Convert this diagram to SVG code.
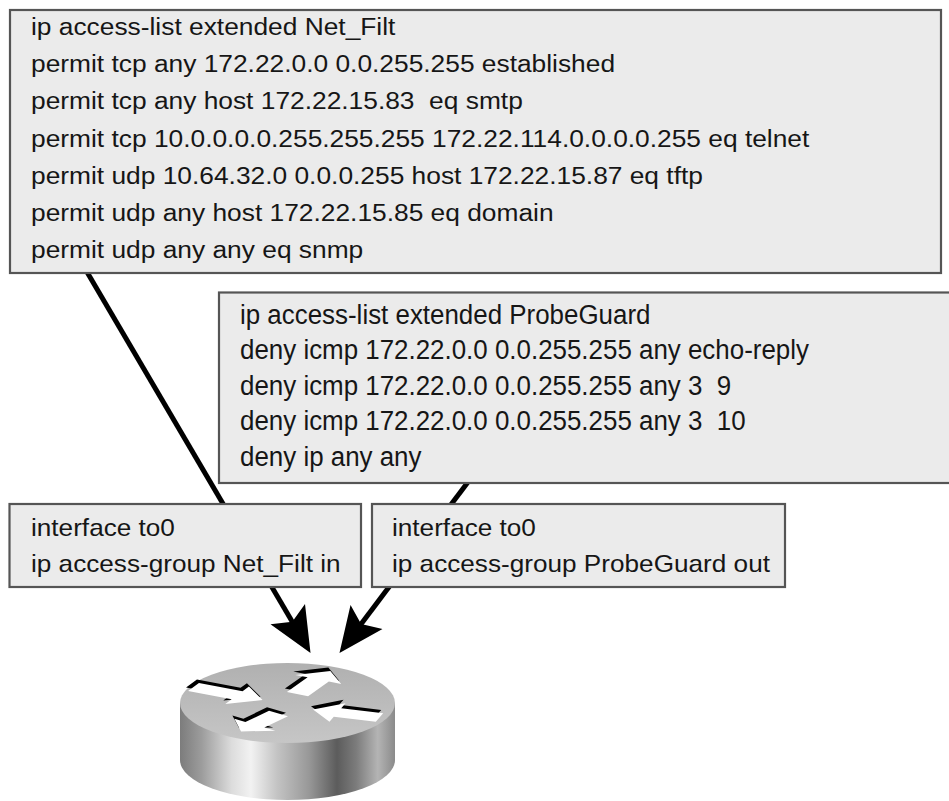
<svg xmlns="http://www.w3.org/2000/svg" xmlns:xlink="http://www.w3.org/1999/xlink" width="949" height="801" viewBox="0 0 949 801">
  <style>
    .box { fill: #ebebeb; stroke: #555; stroke-width: 2.2; }
    .t { font-family: "Liberation Sans", Arial, Helvetica, sans-serif; fill: #161616; }
    .wire { fill: none; stroke: #000; stroke-width: 5; marker-end: url(#head); }
  </style>
  <defs>
    <!-- heavy arrowhead; tip sits 20px past the line end -->
    <marker id="head" markerUnits="userSpaceOnUse" markerWidth="48" markerHeight="44" refX="24" refY="22" orient="auto">
      <path d="M0,2 L45,22 L0,42 L9,22 Z" fill="#000"/>
    </marker>
    <linearGradient id="side" x1="0" y1="0" x2="1" y2="0">
      <stop offset="0" stop-color="#7c7c7c"/>
      <stop offset="0.1" stop-color="#9c9c9c"/>
      <stop offset="0.24" stop-color="#dcdcdc"/>
      <stop offset="0.33" stop-color="#f2f2f2"/>
      <stop offset="0.45" stop-color="#c4c4c4"/>
      <stop offset="0.6" stop-color="#989898"/>
      <stop offset="0.73" stop-color="#5c5c5c"/>
      <stop offset="0.82" stop-color="#7c7c7c"/>
      <stop offset="0.92" stop-color="#b4b4b4"/>
      <stop offset="1" stop-color="#8a8a8a"/>
    </linearGradient>
    <linearGradient id="top" x1="0" y1="0" x2="0" y2="1">
      <stop offset="0" stop-color="#b0b0b0"/>
      <stop offset="1" stop-color="#c6c6c6"/>
    </linearGradient>
    <polygon id="arr" points="0,-12 48,-12 48,-26 76,0 48,26 48,12 0,12"/>
  </defs>

  <rect width="949" height="801" fill="#fff"/>

  <!-- connectors run behind the boxes -->
  <g id="connectors">
    <line class="wire" x1="87" y1="272" x2="299.9" y2="634.8"/>
    <line class="wire" x1="468" y1="482" x2="352.1" y2="636.1"/>
  </g>

  <g id="acl-net-filt">
    <rect class="box" x="10" y="10" width="931" height="263"/>
    <g class="t" font-size="23" transform="translate(31 0) scale(1.145 1)">
      <text y="35" xml:space="preserve">ip access-list extended Net_Filt</text>
      <text y="72.2" xml:space="preserve">permit tcp any 172.22.0.0 0.0.255.255 established</text>
      <text y="109.4" xml:space="preserve">permit tcp any host 172.22.15.83  eq smtp</text>
      <text y="146.6" xml:space="preserve">permit tcp 10.0.0.0.0.255.255.255 172.22.114.0.0.0.0.255 eq telnet</text>
      <text y="183.8" xml:space="preserve">permit udp 10.64.32.0 0.0.0.255 host 172.22.15.87 eq tftp</text>
      <text y="221" xml:space="preserve">permit udp any host 172.22.15.85 eq domain</text>
      <text y="258.2" xml:space="preserve">permit udp any any eq snmp</text>
    </g>
  </g>

  <g id="acl-probeguard">
    <rect class="box" x="219" y="292.5" width="740" height="190.5"/>
    <g class="t" font-size="27" transform="translate(240 0) scale(0.96 1)">
      <text y="324" xml:space="preserve">ip access-list extended ProbeGuard</text>
      <text y="359.5" xml:space="preserve">deny icmp 172.22.0.0 0.0.255.255 any echo-reply</text>
      <text y="395" xml:space="preserve">deny icmp 172.22.0.0 0.0.255.255 any 3  9</text>
      <text y="430.5" xml:space="preserve">deny icmp 172.22.0.0 0.0.255.255 any 3  10</text>
      <text y="466" xml:space="preserve">deny ip any any</text>
    </g>
  </g>

  <g id="iface-in">
    <rect class="box" x="9.5" y="504" width="351.5" height="83"/>
    <g class="t" font-size="24" transform="translate(31 0) scale(1.09 1)">
      <text y="536.5" xml:space="preserve">interface to0</text>
      <text y="572" xml:space="preserve">ip access-group Net_Filt in</text>
    </g>
  </g>

  <g id="iface-out">
    <rect class="box" x="372" y="504" width="413" height="83"/>
    <g class="t" font-size="24" transform="translate(392 0) scale(1.09 1)">
      <text y="536.5" xml:space="preserve">interface to0</text>
      <text y="572" xml:space="preserve">ip access-group ProbeGuard out</text>
    </g>
  </g>

  <g id="router">
    <path d="M180,703 L180,760 A107.5,40 0 0 0 395,760 L395,703 Z" fill="url(#side)"/>
    <ellipse cx="287.5" cy="703" rx="107.5" ry="40" fill="url(#top)"/>
    <!-- four arrows on the top face, drawn on a flat disc then squashed -->
    <g transform="translate(287.5 703) scale(1 0.374)">
      <g fill="#000" transform="translate(-2 -9)">
        <use xlink:href="#arr" transform="translate(-94 -43) rotate(27) scale(1.02 1)"/>
        <use xlink:href="#arr" transform="translate(10 -24) rotate(-62) scale(0.92 1)"/>
        <use xlink:href="#arr" transform="translate(92 39) rotate(198) scale(0.92 1)"/>
        <use xlink:href="#arr" transform="translate(-9 28) rotate(128) scale(0.8 1)"/>
      </g>
      <g fill="#fff">
        <use xlink:href="#arr" transform="translate(-94 -43) rotate(27) scale(1.02 1)"/>
        <use xlink:href="#arr" transform="translate(10 -24) rotate(-62) scale(0.92 1)"/>
        <use xlink:href="#arr" transform="translate(92 39) rotate(198) scale(0.92 1)"/>
        <use xlink:href="#arr" transform="translate(-9 28) rotate(128) scale(0.8 1)"/>
      </g>
    </g>
  </g>
</svg>
